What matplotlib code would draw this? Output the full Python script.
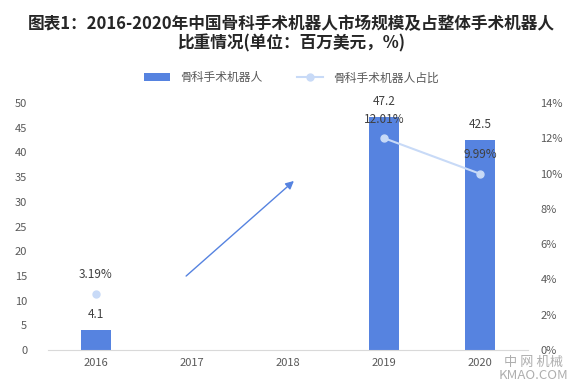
import numpy as np
import matplotlib.pyplot as plt

plt.rcParams['font.family'] = ['Noto Sans CJK SC', 'DejaVu Sans']

years = ['2016', '2017', '2018', '2019', '2020']
market = [4.1, np.nan, np.nan, 47.2, 42.5]        # 百万美元
share = [3.19, np.nan, np.nan, 12.01, 9.99]       # %

bar_color = '#5683e0'
line_color = '#c8daf7'
text_color = '#404040'

fig = plt.figure(figsize=(5.83, 3.84), dpi=100)
ax = fig.add_axes([0.0823, 0.0885, 0.8234, 0.6432])
ax2 = ax.twinx()

x = np.arange(len(years))
ax.bar(x, np.nan_to_num(market), width=0.31, color=bar_color, label='骨科手术机器人', zorder=2)
ax.set_xlim(-0.5, 4.5)
ax.set_ylim(0, 50)
ax.set_yticks(range(0, 51, 5))
ax.set_xticks(x)
ax.set_xticklabels(years)

for xi, v in zip(x, market):
    if not np.isnan(v):
        ax.text(xi, v + 1.8, f'{v:.1f}', ha='center', va='bottom', fontsize=8.5, color=text_color)

ax2.plot(x, share, color=line_color, lw=1.5, marker='o', ms=5, label='骨科手术机器人占比', zorder=3)
ax2.set_ylim(0, 14)
ax2.set_yticks(range(0, 15, 2))
ax2.set_yticklabels([f'{t}%' for t in range(0, 15, 2)])
for xi, v in zip(x, share):
    if not np.isnan(v):
        ax2.text(xi, v + 0.7, f'{v:.2f}%', ha='center', va='bottom', fontsize=8.5, color=text_color)

for a in (ax, ax2):
    for s in a.spines.values():
        s.set_visible(False)
    a.tick_params(length=0, labelsize=8, colors='#595959')
ax.spines['bottom'].set_visible(True)
ax.spines['bottom'].set_color('#d9d9d9')
ax.tick_params(axis='y', pad=15)
ax.tick_params(axis='x', pad=6)
ax2.tick_params(axis='y', pad=9)

# 趋势箭头
ax.annotate('', xy=(2.083, 34.6), xytext=(0.917, 14.6),
            arrowprops=dict(arrowstyle='-|>', color='#5683e0', lw=1.0, mutation_scale=12))

fig.text(0.5, 0.912, '图表1：2016-2020年中国骨科手术机器人市场规模及占整体手术机器人\n比重情况(单位：百万美元，%)',
         ha='center', va='center', fontsize=12, fontweight='bold', color='#262626', linespacing=1.1)

h1, l1 = ax.get_legend_handles_labels()
h2, l2 = ax2.get_legend_handles_labels()
fig.legend(h1 + h2, l1 + l2, loc='center', bbox_to_anchor=(0.5, 0.797), ncol=2, frameon=False,
           fontsize=8.5, labelcolor='#595959', handlelength=2.2, columnspacing=3)

# 水印
fig.text(0.915, 0.005, '中 网 机械\nKMAO.COM', ha='center', va='bottom', fontsize=9.5,
         color='#8c8c8c', alpha=0.7, linespacing=1.0)

fig.savefig('out.png', dpi=100)
